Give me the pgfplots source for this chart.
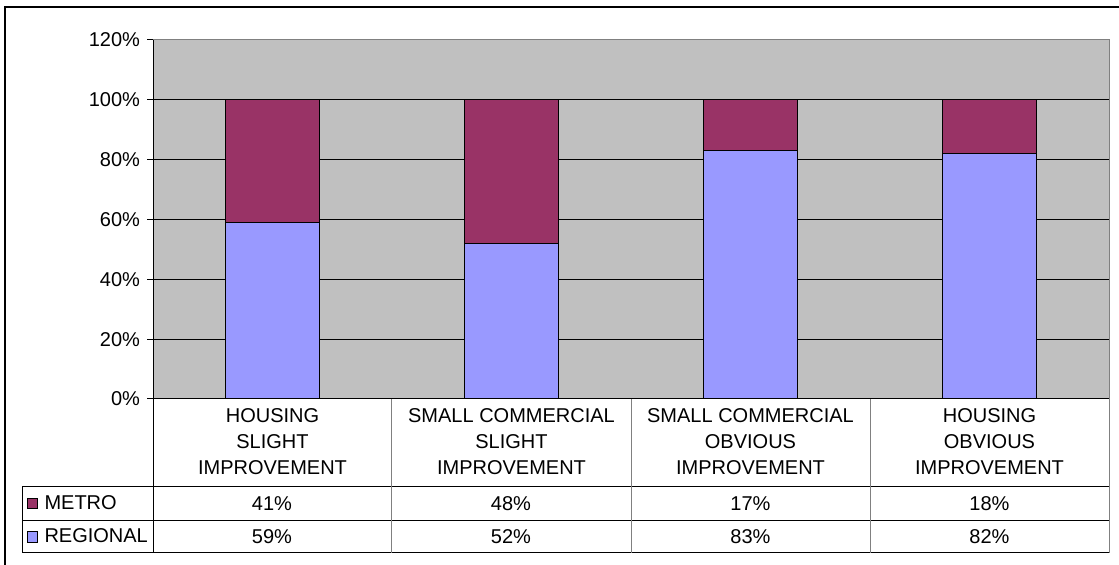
\documentclass[border=0pt]{standalone}
\usepackage{pgfplots}
\usepackage{pgfplotstable}
\pgfplotsset{compat=1.18}
\usepackage{fontspec}
\setmainfont{Liberation Sans}

\definecolor{metro}{HTML}{993366}
\definecolor{regional}{HTML}{9999FF}
\definecolor{bggray}{HTML}{C0C0C0}
\definecolor{linegray}{HTML}{808080}

% values in percent
\pgfplotstableread{
x regional metro
0 59 41
1 52 48
2 83 17
3 82 18
}\data

\begin{document}
\begin{tikzpicture}[x=0.5pt,y=0.5pt,font=\fontsize{10}{13}\selectfont]
\useasboundingbox (0,0) rectangle (1119,565);
% chart frame
\draw[line width=1pt] (5,0) -- (5,558) -- (1119,558);

\begin{axis}[
    at={(76.5pt,83pt)}, anchor=south west,
    scale only axis, width=478pt, height=179.5pt,
    ybar stacked, bar width=47pt,
    xmin=-0.5, xmax=3.5, ymin=0, ymax=120,
    ytick={0,20,...,120}, ytick pos=left,
    yticklabel={\pgfmathprintnumber{\tick}\%},
    /pgf/number format/assume math mode=true,
    xtick={0,1,2,3},
    xticklabels={{HOUSING\\SLIGHT\\IMPROVEMENT},
                 {SMALL COMMERCIAL\\SLIGHT\\IMPROVEMENT},
                 {SMALL COMMERCIAL\\OBVIOUS\\IMPROVEMENT},
                 {HOUSING\\OBVIOUS\\IMPROVEMENT}},
    xticklabel style={align=center, yshift=2pt},
    x tick style={draw=none},
    y tick style={black, line width=0.5pt},
    tick align=outside, major tick length=3pt,
    ymajorgrids, grid style={black, line width=0.5pt},
    axis background/.style={fill=bggray},
    axis line style={linegray, line width=0.5pt},
    ticklabel style={font=\fontsize{10}{13}\selectfont},
    reverse legend,
    legend style={at={(-0.139,-0.233)}, anchor=north west,
        draw=none, fill=none, row sep=0pt,
        nodes={minimum height=16.7pt, inner sep=1pt},
        font=\fontsize{10}{13}\selectfont},
    legend cell align=left,
    legend image code/.code={\draw[#1, draw=black, line width=0.5pt] (0pt,-2.6pt) rectangle (5.2pt,2.6pt); \path (7.5pt,0pt);},
    clip=false,
]
\addplot[fill=regional, draw=black, line width=0.5pt] table[x=x, y=regional] {\data};
\addlegendentry{REGIONAL}
\addplot[fill=metro, draw=black, line width=0.5pt] table[x=x, y=metro] {\data};
\addlegendentry{METRO}
\draw[black, line width=0.5pt] (rel axis cs:0,1) -- (rel axis cs:0,0) -- (rel axis cs:1,0);
\end{axis}

% data table
\draw[black, line width=0.5pt] (22,78) -- (1109,78);
\draw[black, line width=0.5pt] (22,44) -- (1109,44);
\draw[black, line width=0.5pt] (22,12) -- (1109,12);
\draw[black, line width=0.5pt] (22,78) -- (22,12);
\draw[black, line width=0.5pt] (153,166) -- (153,12);
\foreach \xx in {391,631,870,1109}
  \draw[linegray, line width=0.5pt] (\xx,166) -- (\xx,12);
\foreach \i/\xc in {0/272,1/511,2/750.5,3/989.5} {
  \pgfplotstablegetelem{\i}{metro}\of\data
  \node at (\xc,61) {\pgfplotsretval\%};
  \pgfplotstablegetelem{\i}{regional}\of\data
  \node at (\xc,28) {\pgfplotsretval\%};
}
\end{tikzpicture}
\end{document}
